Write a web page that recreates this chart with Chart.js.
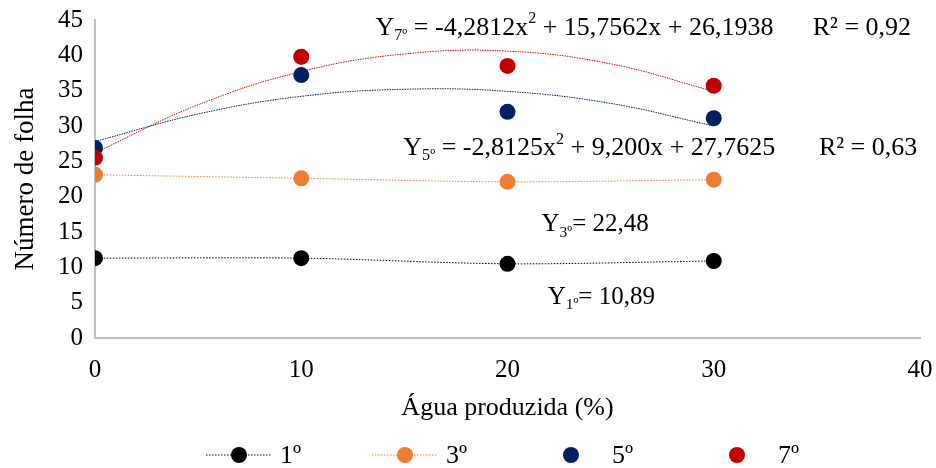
<!DOCTYPE html>
<html>
<head>
<meta charset="utf-8">
<script src="https://cdn.jsdelivr.net/npm/chart.js@4"></script>
<style>
    html, body { margin: 0; background: #fff; }
    #wrap { width: 936px; height: 468px; }
</style>
</head>
<body>
<div id="wrap"><canvas id="chart"></canvas></div>
<script>
// --- Data ---
const aguaProduzida = [0, 10, 20, 30];
const folhas1 = [11.3, 11.3, 10.5, 10.9];
const folhas3 = [23.1, 22.6, 22.1, 22.4];
const folhas5 = [26.9, 37.2, 32.0, 31.1];
const folhas7 = [25.5, 39.8, 38.5, 35.7];

// trend curves
const trendX = [0, 5, 10, 15, 20, 25, 30];
const trend5 = [27.8, 31.7, 34.2, 35.2, 34.9, 33.2, 30.0];
const trend7 = [26.2, 33.0, 37.7, 40.2, 40.6, 38.8, 34.9];

const xTicks = [0, 10, 20, 30, 40];
const yTicks = [0, 5, 10, 15, 20, 25, 30, 35, 40, 45];

const seriesLabels = ['1º', '3º', '5º', '7º'];
const colors = ['#000000', '#ED7D31', '#002060', '#C00000'];

const FONT = '"Liberation Serif", "Times New Roman", serif';

const toPoints = (xs, ys) => xs.map((x, i) => ({ x: x, y: ys[i] }));

// --- Annotations (data coordinates) ---
const annotations = [
    { x: 13.6, y: 43.9, size: 26, parts: [{ t: 'Y' }, { t: '7º', sub: true }, { t: ' = -4,2812x' }, { t: '2', sup: true }, { t: ' + 15,7562x + 26,1938' }] },
    { x: 34.8, y: 43.9, size: 26, parts: [{ t: 'R² = 0,92' }] },
    { x: 14.95, y: 26.9, size: 26, parts: [{ t: 'Y' }, { t: '5º', sub: true }, { t: ' = -2,8125x' }, { t: '2', sup: true }, { t: ' + 9,200x + 27,7625' }] },
    { x: 35.1, y: 26.9, size: 26, parts: [{ t: 'R² = 0,63' }] },
    { x: 21.65, y: 16.0, size: 25, parts: [{ t: 'Y' }, { t: '3º', sub: true }, { t: '= 22,48' }] },
    { x: 21.95, y: 5.8, size: 25, parts: [{ t: 'Y' }, { t: '1º', sub: true }, { t: '= 10,89' }] }
];

function drawRich(ctx, x, y, parts, size) {
    let cx = x;
    parts.forEach(p => {
        const small = p.sub || p.sup;
        const s = small ? size * 0.62 : size;
        ctx.font = `${s}px ${FONT}`;
        const dy = p.sub ? size * 0.3 : (p.sup ? -size * 0.33 : 0);
        ctx.fillText(p.t, cx, y + dy);
        cx += ctx.measureText(p.t).width;
    });
}

const annotationPlugin = {
    id: 'annotationText',
    afterDatasetsDraw(chart) {
        const ctx = chart.ctx;
        const xs = chart.scales.x, ys = chart.scales.y;
        ctx.save();
        ctx.fillStyle = '#000';
        ctx.textBaseline = 'middle';
        ctx.textAlign = 'left';
        annotations.forEach(a => {
            drawRich(ctx, xs.getPixelForValue(a.x), ys.getPixelForValue(a.y), a.parts, a.size);
        });
        ctx.restore();
    }
};

// --- Legend (line + marker for 1º/3º, marker only for 5º/7º) ---
const legendPlugin = {
    id: 'bottomLegend',
    afterDraw(chart) {
        const ctx = chart.ctx;
        const y = 455;
        const step = 166;
        const start = chart.width / 2 + 20 - 1.5 * step;
        ctx.save();
        chart.data.datasets.slice(0, 4).forEach((ds, i) => {
            const mx = start + i * step;
            if (ds.showLine) {
                ctx.strokeStyle = ds.borderColor;
                ctx.lineWidth = 1;
                ctx.setLineDash([1.5, 1.5]);
                ctx.beginPath();
                ctx.moveTo(mx - 33, y);
                ctx.lineTo(mx + 33, y);
                ctx.stroke();
                ctx.setLineDash([]);
            }
            ctx.fillStyle = ds.backgroundColor;
            ctx.beginPath();
            ctx.arc(mx, y, 8, 0, Math.PI * 2);
            ctx.fill();
            ctx.fillStyle = '#000';
            ctx.font = `26px ${FONT}`;
            ctx.textBaseline = 'middle';
            ctx.fillText(ds.label, mx + 41, y + 1);
        });
        ctx.restore();
    }
};

const series = [folhas1, folhas3, folhas5, folhas7];
const datasets = series.map((vals, i) => ({
    label: seriesLabels[i],
    data: toPoints(aguaProduzida, vals),
    showLine: i < 2,
    borderColor: colors[i],
    backgroundColor: colors[i],
    borderWidth: 1,
    borderDash: [1.5, 1.5],
    tension: 0.3,
    pointRadius: 8,
    pointHoverRadius: 8,
    pointBorderWidth: 0,
    order: 4 - i
}));

datasets.push(
    { label: 'trend5', data: toPoints(trendX, trend5), showLine: true, borderColor: colors[2], borderWidth: 1, borderDash: [1.5, 1], tension: 0.4, pointRadius: 0, order: 10 },
    { label: 'trend7', data: toPoints(trendX, trend7), showLine: true, borderColor: '#E00000', borderWidth: 1, borderDash: [1.5, 1], tension: 0.4, pointRadius: 0, order: 10 }
);

const axisFont = { family: FONT, size: 25 };

new Chart(document.getElementById('chart').getContext('2d'), {
    type: 'scatter',
    data: { datasets: datasets },
    options: {
        responsive: true,
        maintainAspectRatio: false,
        animation: false,
        layout: { padding: { top: 20, right: 16, bottom: 40, left: 0 } },
        plugins: { legend: { display: false }, tooltip: { enabled: false } },
        scales: {
            x: {
                type: 'linear', min: 0, max: 40,
                afterBuildTicks: s => { s.ticks = xTicks.map(v => ({ value: v })); },
                afterFit: s => { s.height = 90; s.paddingLeft = 0; s.paddingRight = 0; },
                ticks: { font: axisFont, color: '#000', padding: 17 },
                grid: { display: false, drawTicks: false },
                border: { color: '#BFBFBF', width: 2 },
                title: { display: true, text: 'Água produzida (%)', font: { family: FONT, size: 26 }, color: '#000', padding: { top: 10, bottom: 4 } }
            },
            y: {
                min: 0, max: 45,
                afterBuildTicks: s => { s.ticks = yTicks.map(v => ({ value: v })); },
                afterFit: s => { s.width = 95; s.paddingTop = 0; s.paddingBottom = 0; },
                ticks: { font: axisFont, color: '#000', padding: 12 },
                grid: { display: false, drawTicks: false },
                border: { color: '#BFBFBF', width: 2 },
                title: { display: true, text: 'Número de folha', font: { family: FONT, size: 27 }, color: '#000', padding: { top: 10, bottom: 0 } }
            }
        }
    },
    plugins: [annotationPlugin, legendPlugin]
});
</script>
</body>
</html>
